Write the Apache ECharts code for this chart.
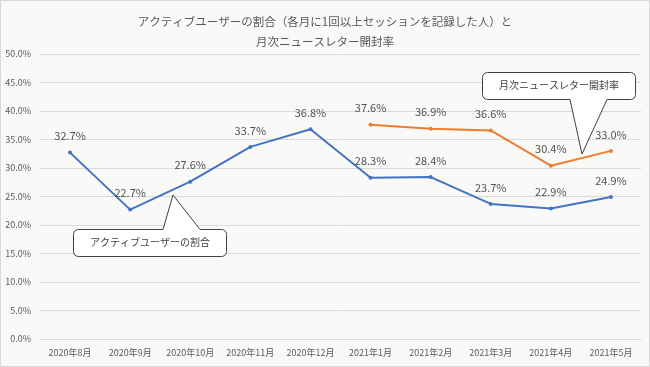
<!DOCTYPE html>
<html><head><meta charset="utf-8">
<script src="https://cdn.jsdelivr.net/npm/echarts@6/dist/echarts.min.js"></script>
<style>html,body{margin:0;padding:0;background:#fff}#c{width:650px;height:367px}</style>
</head><body><div id="c"></div>
<script>
const categories = ['2020年8月','2020年9月','2020年10月','2020年11月','2020年12月','2021年1月','2021年2月','2021年3月','2021年4月','2021年5月'];
const activeUsers = [32.7, 22.7, 27.6, 33.7, 36.8, 28.3, 28.4, 23.7, 22.9, 24.9];
const newsletterOpen = [null, null, null, null, null, 37.6, 36.9, 36.6, 30.4, 33.0];
const titleLines = ['アクティブユーザーの割合（各月に1回以上セッションを記録した人）と', '月次ニュースレター開封率'];
const seriesNames = ['アクティブユーザーの割合', '月次ニュースレター開封率'];

const font = '"Noto Sans CJK JP", "Noto Sans", sans-serif';
const chart = echarts.init(document.getElementById('c'));
function arc(cx, cy, r, a0, a1) {
  const pts = [];
  for (let i = 0; i <= 6; i++) {
    const a = a0 + (a1 - a0) * i / 6;
    pts.push([cx + r * Math.cos(a), cy + r * Math.sin(a)]);
  }
  return pts;
}
function callout(box, tail) {
  const [x0, y0, x1, y1] = box; const r = 5;
  const [bl, tip, br, onTop] = tail;
  const P = Math.PI;
  let pts = [];
  pts = pts.concat(arc(x0 + r, y0 + r, r, P, 1.5 * P));
  if (onTop) pts.push([bl, y0], tip, [br, y0]);
  pts = pts.concat(arc(x1 - r, y0 + r, r, 1.5 * P, 2 * P));
  pts = pts.concat(arc(x1 - r, y1 - r, r, 0, 0.5 * P));
  if (!onTop) pts.push([br, y1], tip, [bl, y1]);
  pts = pts.concat(arc(x0 + r, y1 - r, r, 0.5 * P, P));
  return pts;
}
chart.setOption({
  backgroundColor: '#f9faf7',
  animation: false,
  title: {
    text: titleLines.join('\n'),
    left: 'center', top: 7,
    textStyle: { fontFamily: font, fontSize: 11.5, fontWeight: 'normal', color: '#595959', lineHeight: 20 }
  },
  grid: { left: 40, right: 9, top: 54, bottom: 28 },
  xAxis: {
    type: 'category', data: categories, boundaryGap: true,
    axisLine: { lineStyle: { color: '#d9d9d9' } }, axisTick: { show: false },
    axisLabel: { fontFamily: font, fontSize: 9, color: '#595959', margin: 9, interval: 0 }
  },
  yAxis: {
    type: 'value', min: 0, max: 50, interval: 5,
    axisLine: { show: false }, axisTick: { show: false },
    splitLine: { lineStyle: { color: '#d9d9d9' } },
    axisLabel: { fontFamily: font, fontSize: 9, color: '#595959', margin: 9, formatter: v => v.toFixed(1) + '%' }
  },
  series: [
    { name: seriesNames[0], type: 'line', data: activeUsers, symbol: 'circle', symbolSize: 4,
      lineStyle: { color: '#4472c4', width: 2 }, itemStyle: { color: '#4472c4' },
      label: { show: true, position: 'top', distance: 9, fontFamily: font, fontSize: 11, color: '#505050', formatter: p => p.value.toFixed(1) + '%' } },
    { name: seriesNames[1], type: 'line', data: newsletterOpen, symbol: 'circle', symbolSize: 4,
      lineStyle: { color: '#ed7d31', width: 2 }, itemStyle: { color: '#ed7d31' },
      label: { show: true, position: 'top', distance: 9, fontFamily: font, fontSize: 11, color: '#505050', formatter: p => p.value == null ? '' : p.value.toFixed(1) + '%' } }
  ],
  graphic: [
    { type: 'rect', shape: { x: 0.5, y: 0.5, width: 649, height: 366 }, style: { fill: 'none', stroke: '#d9d9d9', lineWidth: 1 }, silent: true, z: 0 },
    { type: 'polygon', shape: { points: callout([73.5, 229.5, 226.5, 256.5], [163, [173, 195], 200, true]) }, style: { fill: '#ffffff', stroke: '#404040', lineWidth: 1 }, z: 10 },
    { type: 'text', x: 150, y: 237, style: { text: seriesNames[0], font: '10px ' + font, fill: '#404040', align: 'center' }, z: 11 },
    { type: 'polygon', shape: { points: callout([482.5, 72.5, 635.5, 99.5], [570, [582, 154], 607, false]) }, style: { fill: '#ffffff', stroke: '#404040', lineWidth: 1 }, z: 10 },
    { type: 'text', x: 559, y: 80, style: { text: seriesNames[1], font: '10px ' + font, fill: '#404040', align: 'center' }, z: 11 }
  ]
});
</script></body></html>
